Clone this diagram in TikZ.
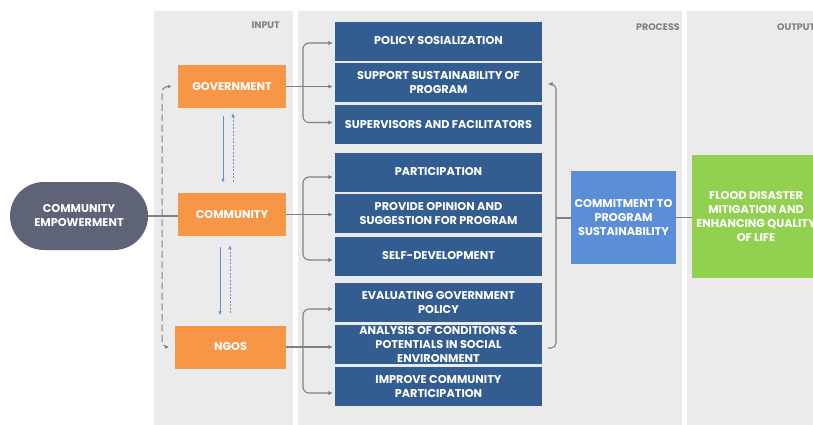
\documentclass[tikz,border=0pt]{standalone}
\usepackage{fontspec}
\setmainfont{Poppins}[BoldFont={Poppins Bold}]
\usetikzlibrary{arrows.meta}

\definecolor{panelgray}{HTML}{EBEBEB}
\definecolor{slate}{HTML}{5E6475}
\definecolor{orng}{HTML}{F79646}
\definecolor{dblue}{HTML}{335D90}
\definecolor{mblue}{HTML}{5B8ED6}
\definecolor{lgreen}{HTML}{92D050}
\definecolor{conn}{HTML}{808080}
\definecolor{arrblue}{HTML}{5F8FD0}
\definecolor{labgray}{HTML}{808080}

\tikzset{
  boxtext/.style={text=white, align=center, inner sep=0pt,
    font=\bfseries\fontsize{11.3}{14}\selectfont},
  pillbox/.style={boxtext, fill=slate, minimum width=138pt, minimum height=68pt,
    rounded corners=34pt},
  actorbox/.style={boxtext, fill=orng, minimum width=108pt, minimum height=43pt},
  procbox/.style={boxtext, fill=dblue, minimum width=207pt, minimum height=39pt},
  commitbox/.style={boxtext, fill=mblue, minimum width=105pt, minimum height=93pt},
  outbox/.style={boxtext, fill=lgreen, minimum width=128pt, minimum height=123pt},
  phase/.style={text=labgray, inner sep=0pt, font=\bfseries\fontsize{9.5}{10}\selectfont},
  link/.style={draw=conn, line width=1.1pt},
  linkarr/.style={link, -{Latex[length=4.5pt,width=4.5pt]}},
  loopline/.style={draw=conn, line width=1pt, dash pattern=on 7pt off 3.5pt,
    {Latex[length=4pt,width=4pt]}-{Latex[length=4pt,width=4pt]}},
  flowdown/.style={draw=arrblue, line width=0.8pt, -{Latex[length=4pt,width=3.5pt]}},
  flowup/.style={draw=arrblue, line width=0.8pt, dash pattern=on 2pt off 1.5pt,
    -{Latex[length=4pt,width=3.5pt]}},
}

\begin{document}
\begin{tikzpicture}[x=1pt, y=-1pt]
\useasboundingbox (0,0) rectangle (813,424);
\fill[white] (0,0) rectangle (813,424);

% phase panels
\fill[panelgray] (154,11) rectangle (293,430);
\fill[panelgray] (298,11) rectangle (682,430);
\fill[panelgray] (687,11) rectangle (840,430);

\node[phase, anchor=east] (lin) at (280,25) {INPUT};
\node[phase, anchor=east] (lproc) at (680,27) {PROCESS};
\node[phase, anchor=west] (lout) at (777,27) {OUTPUT};

% input side
\node[pillbox] (ce) at (79,216) {COMMUNITY\\EMPOWERMENT};
\node[actorbox] (gov) at (232,86.5) {GOVERNMENT};
\node[actorbox] (comm) at (232,214.5) {COMMUNITY};
\node[actorbox, minimum width=111pt] (ngo) at (230.5,347) {NGOS};

% process boxes
\node[procbox] (p1) at (438.5,41) {POLICY SOSIALIZATION};
\node[procbox] (p2) at (438.5,82.5) {SUPPORT SUSTAINABILITY OF\\PROGRAM};
\node[procbox] (p3) at (438.5,124.5) {SUPERVISORS AND FACILITATORS};
\node[procbox] (p4) at (438.5,172) {PARTICIPATION};
\node[procbox] (p5) at (438.5,213.5) {PROVIDE OPINION AND\\SUGGESTION FOR PROGRAM};
\node[procbox] (p6) at (438.5,256) {SELF-DEVELOPMENT};
\node[procbox] (p7) at (438.5,302.5) {EVALUATING GOVERNMENT\\POLICY};
\node[procbox] (p8) at (438.5,344.5) {ANALYSIS OF CONDITIONS \&\\POTENTIALS IN SOCIAL\\ENVIRONMENT};
\node[procbox] (p9) at (438.5,386.5) {IMPROVE COMMUNITY\\PARTICIPATION};

\node[commitbox] (cm) at (623.5,217.5) {COMMITMENT TO\\PROGRAM\\SUSTAINABILITY};
\node[outbox] (out) at (756,216.5) {FLOOD DISASTER\\MITIGATION AND\\ENHANCING QUALITY\\OF LIFE};

% junction points of the brackets
\coordinate (gj) at (303,86.5);
\coordinate (cj) at (303,214.5);
\coordinate (nj) at (303,347);
\coordinate (rj) at (556,218);
\coordinate (dl) at (162,0);

% empowerment to community
\draw[link] (ce.east) -- (ce.east -| comm.west);

% dashed link between government and NGOs
\draw[loopline, rounded corners=6pt]
  ([xshift=-6pt]gov.west) -- (dl |- gov.west) -- (dl |- ngo.west) -- ([xshift=-6pt]ngo.west);

% two-way flows between actors
\draw[flowdown] ([xshift=-9pt,yshift=-8pt]gov.south) -- ([xshift=-9pt,yshift=10pt]comm.north);
\draw[flowup] ([xshift=1pt,yshift=11pt]comm.north) -- ([xshift=1pt,yshift=-5pt]gov.south);
\draw[flowdown] ([xshift=-12pt,yshift=-11pt]comm.south) -- ([xshift=-10.5pt,yshift=10pt]ngo.north);
\draw[flowup] ([xshift=-0.5pt,yshift=12pt]ngo.north) -- ([xshift=-2pt,yshift=-9pt]comm.south);

% government branches
\draw[linkarr, shorten >=2pt] (gov.east) -- (gov.east -| p2.west);
\draw[linkarr, shorten >=2pt, rounded corners=6pt] (gj) |- ([yshift=-2pt]p1.west);
\draw[linkarr, shorten >=2pt, rounded corners=6pt] (gj) |- ([yshift=2pt]p3.west);

% community branches
\draw[linkarr, shorten >=2pt] (comm.east) -- (comm.east -| p5.west);
\draw[linkarr, shorten >=2pt, rounded corners=6pt] (cj) |- ([yshift=-5pt]p4.west);
\draw[linkarr, shorten >=2pt, rounded corners=6pt] (cj) |- ([yshift=-4pt]p6.west);

% NGO branches
\draw[linkarr, shorten >=2pt] (ngo.east) -- (ngo.east -| p8.west);
\draw[linkarr, shorten >=2pt, rounded corners=6pt] (nj) |- ([yshift=-6.5pt]p7.west);
\draw[linkarr, shorten >=2pt, rounded corners=6pt] (nj) |- ([yshift=-6.5pt]p9.west);

% right bracket to commitment
\draw[linkarr, rounded corners=5pt] (rj) |- ([xshift=6pt,yshift=-1.5pt]p2.east);
\draw[link, rounded corners=5pt] (rj) |- ([xshift=6pt,yshift=-3.5pt]p8.east);
\draw[link] (rj) -- (rj -| cm.west);
\draw[link] (cm.east) -- (cm.east -| out.west);
\end{tikzpicture}
\end{document}
